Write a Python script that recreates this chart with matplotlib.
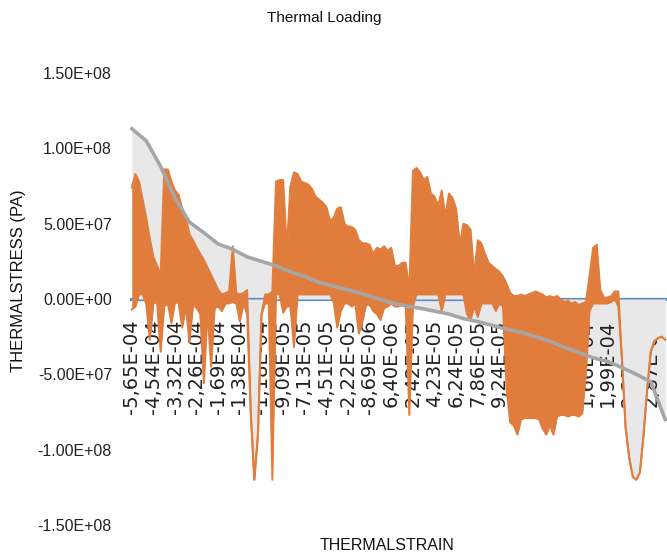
import numpy as np
import matplotlib.pyplot as plt

# thermal strain categories printed on the axis (one label every 6th sample)
strain_labels = ['-5,65E-04', '-4,54E-04', '-3,32E-04', '-2,26E-04', '-1,69E-04',
                 '-1,38E-04', '-1,18E-04', '-9,09E-05', '-7,13E-05', '-4,51E-05',
                 '-2,22E-05', '-8,69E-06', '6,40E-06', '2,42E-05', '4,23E-05',
                 '6,24E-05', '7,86E-05', '9,24E-05', '1,07E-04', '1,25E-04',
                 '1,43E-04', '1,66E-04', '1,99E-04', '2,35E-04', '2,87E-04']
label_step = 6

# all stresses below are in units of 1E+07 Pa
unit = 1e7

# gray series (sorted thermal stress), one value every 4th sample
gray_step = 4
stress_sorted = [11.3, 10.5, 8.8, 6.7, 5.1, 4.4, 3.65, 3.3, 2.8, 2.5,
                 2.2, 1.8, 1.5, 1.1, 0.85, 0.6, 0.35, 0.05, -0.25, -0.45,
                 -0.62, -0.8, -1.0, -1.3, -1.5, -1.75, -2.0, -2.2, -2.5, -2.8,
                 -3.2, -3.55, -3.9, -4.15, -4.55, -5.0, -5.5, -8.0]

# orange series: upper and lower extent of the (very noisy) signal per sample
orange_peak = [7.4, 8.3, 7.8, 6.6, 5.4, 4.0, 2.8, 2.2, 1.6, 8.6,
               8.6, 7.8, 7.2, 6.9, 6.0, 5.4, 4.3, 3.9, 3.4, 3.0,
               2.6, 2.1, 1.6, 1.1, 0.6, 0.3, 0.4, 0.5, 3.5, 0.4,
               0.3, 0.4, 0.6, -7.5, -12.0, -9.0, -1.0, 0.3, 0.3, 0.5,
               7.8, 7.9, 7.9, 3.3, 7.5, 8.4, 8.3, 7.8, 7.7, 7.6,
               7.3, 6.8, 6.6, 6.4, 6.1, 5.2, 5.4, 6.0, 6.1, 5.0,
               4.8, 4.8, 4.6, 3.9, 3.7, 3.7, 3.6, 3.0, 3.4, 3.3,
               3.5, 3.2, 3.4, 2.2, 2.2, 2.4, 2.4, 0.6, 8.5, 8.7,
               8.4, 7.9, 8.1, 7.0, 6.8, 6.2, 7.2, 5.5, 7.0, 6.7,
               6.0, 3.6, 5.0, 4.9, 4.6, 1.6, 3.9, 3.7, 3.0, 2.4,
               2.2, 2.0, 1.8, 1.5, 1.0, 0.4, 0.2, 0.2, 0.3, 0.2,
               0.3, 0.4, 0.5, 0.4, 0.3, 0.1, 0.2, 0.1, 0.2, 0.0,
               -0.2, -0.1, -0.3, -0.2, -0.4, -0.3, -0.2, 1.5, 3.4, 3.6,
               0.6, 0.1, 0.1, 0.2, 0.5, 0.5, -4.0, -8.5, -10.5, -11.8,
               -12.0, -11.5, -9.0, -6.0, -3.5, -2.8, -2.6, -2.5, -2.7]
orange_base = [-0.7, -0.5, 0.3, 0.3, -0.3, -2.7, -0.3, -0.2, -3.5, -0.5,
               -0.3, -1.6, -0.2, -0.3, -1.9, -0.5, -2.9, -0.4, -0.6, -1.0,
               -5.6, -0.8, -4.5, -0.6, -0.5, -0.8, -0.3, -0.3, -0.2, -0.3,
               -1.5, -0.3, -1.0, -7.5, -12.0, -9.0, -1.0, -0.3, -0.3, -12.0,
               0.3, 0.3, -0.9, -0.5, -0.5, -3.2, 0.3, 0.3, 0.3, 0.3,
               0.3, 0.3, 0.3, 0.3, 0.3, 0.3, -0.2, -1.9, -0.8, -0.3,
               -0.3, -0.5, -0.3, -2.3, -1.5, -0.4, -0.4, -0.8, -1.0, -1.4,
               -0.6, -0.5, -0.3, -0.5, -0.5, -0.4, -0.5, -7.7, -0.5, 0.3,
               0.3, 0.3, 0.3, 0.3, 0.3, 0.3, -0.8, 0.3, 0.3, 0.3,
               0.3, 0.3, 0.3, -1.0, -1.4, -0.5, -1.2, -0.3, -0.3, -0.3,
               -0.3, -0.8, -0.3, -0.5, -6.0, -8.2, -8.4, -9.0, -8.0, -7.9,
               -7.9, -7.9, -7.9, -8.0, -8.6, -9.0, -8.4, -9.0, -7.8, -7.7,
               -7.7, -7.8, -7.7, -7.7, -7.8, -7.6, -5.0, -0.8, -0.3, -0.3,
               -0.3, -0.3, -0.3, -0.2, 0.0, -0.5, -4.0, -8.5, -10.5, -11.8,
               -12.0, -11.5, -9.0, -6.0, -3.5, -2.8, -2.6, -2.5, -2.7]

baseline_stress = 0.0
y_ticks = [-1.5e8, -1.0e8, -5.0e7, 0.0, 5.0e7, 1.0e8, 1.5e8]

orange = '#e07d3c'
light = '#e8e8e8'

x = np.arange(len(orange_peak))
xg = np.arange(len(stress_sorted)) * gray_step
peak = np.array(orange_peak) * unit
base = np.array(orange_base) * unit
gray = np.array(stress_sorted) * unit

fig = plt.figure(figsize=(6.67, 5.57), dpi=100)
ax = fig.add_axes([130 / 667, 32 / 557, 537 / 667, 452 / 557])

# gray area series
ax.fill_between(xg, 0, gray, color=light, lw=0, zorder=1)
# blue series sitting on zero
ax.axhline(baseline_stress, color='#5b8ac6', lw=2.3, zorder=2)
# orange noisy series
ax.fill_between(x, 0, base, color=light, lw=0, zorder=2.5)
ax.fill_between(x, base, peak, color=orange, lw=0, zorder=3)
ax.plot(x, peak, color=orange, lw=1.4, zorder=3)
ax.plot(x, base, color=orange, lw=1.4, zorder=3)
# gray outline on top
ax.plot(xg, gray, color='#a6a6a6', lw=2.6, zorder=4, solid_joinstyle='round')

ax.set_xlim(-0.5, len(orange_peak) - 0.5)
ax.set_ylim(-1.5e8, 1.5e8)

for s in ax.spines.values():
    s.set_visible(False)
ax.spines['bottom'].set_position(('data', 0))

ax.set_xticks(np.arange(len(strain_labels)) * label_step)
ax.set_xticklabels(strain_labels, rotation=90, fontsize=14, color='#222222',
                   family='DejaVu Sans')
ax.tick_params(axis='x', length=0, pad=15)

ax.set_yticks(y_ticks)
ax.set_yticklabels([f'{v:.2E}' for v in y_ticks], fontsize=11.5,
                   family='Liberation Sans', color='#222222')
ax.tick_params(axis='y', length=0, pad=13)

fig.text(324 / 667, 1 - 18 / 557, 'Thermal Loading', ha='center', va='center',
         fontsize=11, family='Liberation Sans', color='#111111')
fig.text(387 / 667, 1 - 545 / 557, 'THERMALSTRAIN', ha='center', va='center',
         fontsize=11.5, family='Liberation Sans', color='#111111')
fig.text(19 / 667, 1 - 281 / 557, 'THERMALSTRESS (PA)', ha='center', va='center',
         rotation=90, fontsize=12, family='Liberation Sans', color='#111111')

fig.savefig('out.png', dpi=100)
